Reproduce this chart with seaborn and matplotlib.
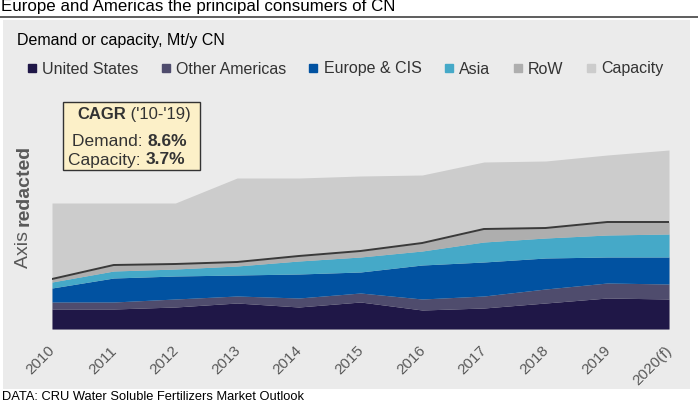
import numpy as np
import pandas as pd
import matplotlib
matplotlib.use('Agg')
import matplotlib.pyplot as plt
import matplotlib.transforms as mtransforms
import seaborn as sns
from matplotlib.lines import Line2D
from matplotlib.patches import Rectangle


# Data (axis redacted in the source, so values are in relative units)
years = ['2010', '2011', '2012', '2013', '2014', '2015', '2016', '2017', '2018', '2019', '2020(f)']
united_states = [20, 20, 22, 26, 22, 27, 19, 21, 26, 31, 30]
other_americas = [7, 7, 8, 7, 9, 9, 11, 12, 14, 15, 15]
europe_cis = [14, 24, 23, 21, 24, 21, 34, 34, 31, 26, 27]
asia = [6, 7, 7, 9, 13, 15, 14, 20, 20, 22, 23]
row = [3, 6, 5, 4, 5, 6, 8, 13, 10, 13, 12]
capacity = [126, 126, 126, 151, 151, 153, 154, 167, 168, 174, 179]

series_names = ['United States', 'Other Americas', 'Europe & CIS', 'Asia', 'RoW', 'Capacity']
colors = ['#1f1747', '#4f4c6d', '#0152a1', '#45a9c8', '#aeaeae', '#cccccc']

W, H = 698, 403


def fx(x):
    return x / W


def fy(y):
    return 1 - y / H


def main():
    sns.set_theme(style='white')
    plt.rcParams['font.family'] = ['Liberation Sans', 'DejaVu Sans']

    df = pd.DataFrame({'year': years, 'United States': united_states,
                       'Other Americas': other_americas, 'Europe & CIS': europe_cis,
                       'Asia': asia, 'RoW': row, 'Capacity': capacity})
    df['x'] = np.arange(len(df))
    df['demand'] = df[series_names[:5]].sum(axis=1)

    fig = plt.figure(figsize=(W / 100, H / 100), dpi=100)
    fig.patch.set_facecolor('white')

    # grey panel behind the chart
    fig.patches.append(Rectangle((fx(3), fy(389)), fx(687), (389 - 20) / H,
                                 transform=fig.transFigure, facecolor='#ebebeb',
                                 edgecolor='none', zorder=-5))
    # title + rule
    fig.text(fx(1), fy(7), 'Europe and Americas the principal consumers of CN',
             fontsize=12.2, color='black', va='center', ha='left')
    fig.lines.append(Line2D([0, 1], [fy(17), fy(17)], transform=fig.transFigure,
                            color='#505050', lw=1.3))
    fig.text(fx(2), fy(397), 'DATA: CRU Water Soluble Fertilizers Market Outlook',
             fontsize=9.3, color='black', va='center', ha='left')
    fig.text(fx(17), fy(40), 'Demand or capacity, Mt/y CN', fontsize=11.5,
             color='black', va='center', ha='left')

    ax = fig.add_axes([fx(52), fy(329), (669 - 52) / W, 200 / H])
    ax.set_facecolor('none')

    ax.fill_between(df.x, 0, df.Capacity, color=colors[5], lw=0)
    ax.stackplot(df.x, df[series_names[:5]].T.values, colors=colors[:5], lw=0)
    sns.lineplot(data=df, x='x', y='demand', color='#3a3a3a', lw=1.4, ax=ax)

    ax.set_xlim(0, len(df) - 1)
    ax.set_ylim(0, 200)
    ax.set_xticks(df.x)
    ax.set_xticklabels(years, rotation=45, ha='right', rotation_mode='anchor',
                       fontsize=11, color='#595959')
    ax.tick_params(axis='x', length=0, pad=9)
    shift = mtransforms.ScaledTranslation(-4 / 100, -2 / 100, fig.dpi_scale_trans)
    for lab in ax.get_xticklabels():
        lab.set_transform(lab.get_transform() + shift)
    ax.set_yticks([])
    ax.set_xlabel('')
    ax.set_ylabel('')
    for s in ax.spines.values():
        s.set_visible(False)

    # legend
    handles = [Line2D([], [], marker='s', ls='none', markersize=5.5, color=c) for c in colors]
    fig.legend(handles, series_names, loc='center left', bbox_to_anchor=(fx(27), fy(69)),
               ncol=6, frameon=False, fontsize=11.5, handlelength=0.6,
               handletextpad=0.35, columnspacing=1.4, labelcolor='#333333',
               borderaxespad=0, borderpad=0)

    # CAGR box
    fig.patches.append(Rectangle((fx(63), fy(170)), 137 / W, 68 / H,
                                 transform=fig.transFigure, facecolor='#fcf0c8',
                                 edgecolor='#333333', lw=1.0, zorder=5))
    fig.canvas.draw()
    r = fig.canvas.get_renderer()
    t1 = fig.text(fx(77), fy(115), 'CAGR', fontsize=12, weight='bold',
                  color='#333333', va='center', ha='left', zorder=6)
    bb = t1.get_window_extent(r)
    fig.text(bb.x1 / W, fy(115), " ('10-'19)", fontsize=12, color='#333333',
             va='center', ha='left', zorder=6)
    for yy, xr, lab, val in [(141, 187, 'Demand: ', '8.6%'), (160, 185, 'Capacity: ', '3.7%')]:
        tv = fig.text(fx(xr), fy(yy), val, fontsize=12.5, weight='bold',
                      color='#333333', va='center', ha='right', zorder=6)
        bv = tv.get_window_extent(r)
        fig.text(bv.x0 / W, fy(yy), lab, fontsize=12.5, color='#333333',
                 va='center', ha='right', zorder=6)

    # y label with a bold word
    ta = fig.text(fx(24), fy(268), 'Axis ', fontsize=14, color='#595959', rotation=90,
                  va='bottom', ha='center')
    ba = ta.get_window_extent(r)
    fig.text(fx(24), ba.y1 / H, 'redacted', fontsize=14, weight='bold', color='#595959',
             rotation=90, va='bottom', ha='center')

    fig.savefig('out.png', dpi=100, facecolor='white')


if __name__ == "__main__":
    main()
